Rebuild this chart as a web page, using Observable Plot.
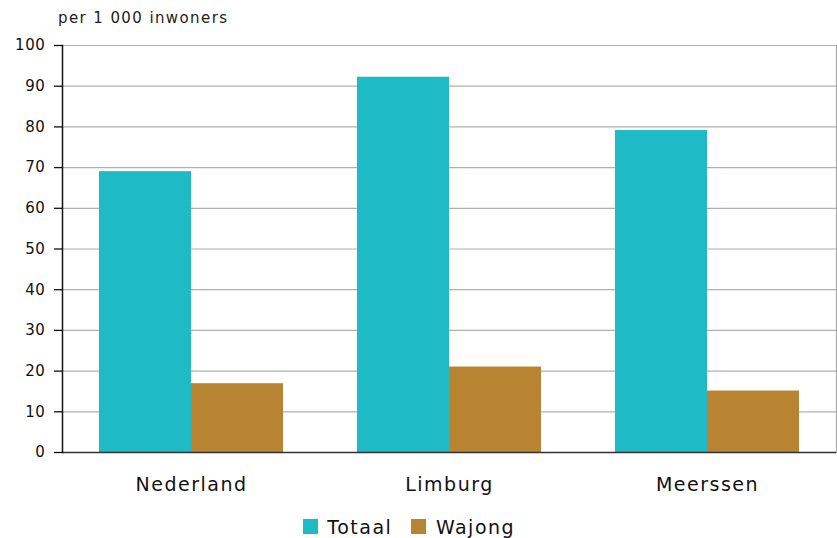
<!DOCTYPE html>
<html>
<head>
<meta charset="utf-8">
<script src="https://cdn.jsdelivr.net/npm/d3@7"></script>
<script src="https://cdn.jsdelivr.net/npm/@observablehq/plot@0.6"></script>
<style>
  body { margin: 0; background: #fff; width: 837px; height: 538px; overflow: hidden; position: relative; }
  #title { height: 30px; box-sizing: border-box; padding-left: 58px; padding-top: 11px; font-family: "DejaVu Sans", sans-serif; font-size: 15px; line-height: 15px; color: #222; letter-spacing: 1.4px; }
  #legend { position: absolute; left: 0; top: 510px; width: 837px; height: 33px; display: flex; justify-content: center; }
  #legend > * { margin: 0 !important; min-height: 33px; }
  #legend, #legend * { font-family: "DejaVu Sans", sans-serif !important; font-size: 19px !important; letter-spacing: 1.5px; color: #111; }
</style>
</head>
<body>
<div id="title">per 1 000 inwoners</div>
<div id="chart"></div>
<div id="legend"></div>
<script>
const categories = ["Nederland", "Limburg", "Meerssen"];
const series = ["Totaal", "Wajong"];
const totaal = [69, 92.2, 79.1];
const wajong = [16.9, 21, 15.1];
const yTicks = [0, 10, 20, 30, 40, 50, 60, 70, 80, 90, 100];
const colors = ["#1EBAC5", "#B98431"];

const data = categories.flatMap((c, i) => [
  {cat: c, series: "Totaal", value: totaal[i]},
  {cat: c, series: "Wajong", value: wajong[i]}
]);

const chart = Plot.plot({
  width: 837,
  height: 478,
  marginTop: 15,
  marginBottom: 56,
  marginLeft: 62,
  marginRight: 1,
  style: {fontFamily: "DejaVu Sans, sans-serif", fontSize: "15px", color: "#111"},
  fx: {domain: categories, padding: 0, label: null},
  x: {domain: series, paddingInner: 0, paddingOuter: 0.39, axis: null},
  y: {domain: [0, 100], ticks: yTicks, label: null},
  color: {domain: series, range: colors},
  marks: [
    Plot.gridY(yTicks, {stroke: "#b0b0b0", strokeOpacity: 1, strokeWidth: 1.2}),
    Plot.frame({anchor: "right", facetAnchor: "right", stroke: "#a8a8a8", strokeWidth: 1.2}),
    Plot.barY(data, {fx: "cat", x: "series", y: "value", fill: "series", inset: 0}),
    Plot.ruleY([0], {stroke: "#333", strokeWidth: 1.5}),
    Plot.frame({anchor: "left", facetAnchor: "left", stroke: "#111", strokeWidth: 1.5}),
    Plot.axisY(yTicks, {anchor: "left", tickSize: 8, tickPadding: 9, stroke: "#111", strokeWidth: 1.3, fontSize: 15, label: null}),
    Plot.axisFx({anchor: "bottom", tickSize: 0, tickPadding: 25, fontSize: 19, fontFamily: "DejaVu Sans, sans-serif", label: null})
  ]
});
chart.querySelectorAll("g[aria-label='y-axis tick label'] text").forEach(t => t.setAttribute("letter-spacing", "0.6"));
chart.querySelectorAll("g[aria-label='fx-axis tick label'] text").forEach(t => t.setAttribute("letter-spacing", "1.5"));
document.getElementById("chart").appendChild(chart);

const leg = Plot.legend({color: {domain: series, range: colors}, swatchSize: 15, swatchWidth: 15, swatchHeight: 15});
document.getElementById("legend").appendChild(leg);
</script>
</body>
</html>
